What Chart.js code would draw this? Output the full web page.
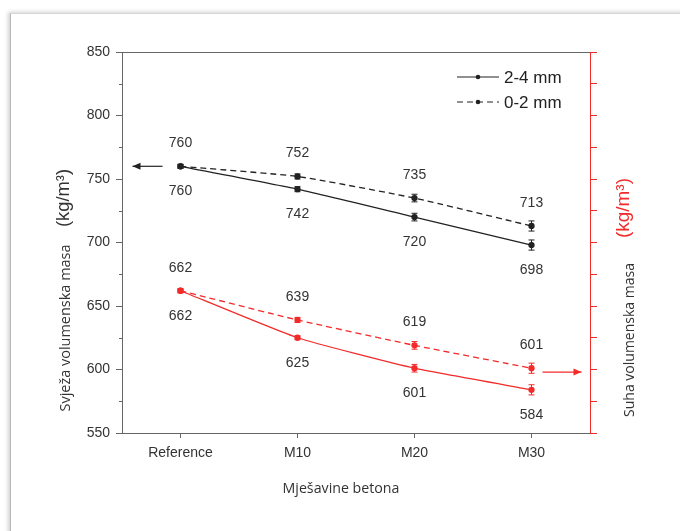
<!DOCTYPE html>
<html><head><meta charset="utf-8">
<script src="https://cdn.jsdelivr.net/npm/chart.js@4.4.1/dist/chart.umd.min.js"></script>
<style>
html,body{margin:0;padding:0;background:#fff;overflow:hidden;width:680px;height:531px}
#frame{position:absolute;left:10px;top:13px;width:700px;height:560px;border-left:1px solid #b8b8b8;border-top:1px solid #d6d6d6;box-shadow:-2px -1px 4px rgba(0,0,0,0.18);background:#fff}
#wrap{position:absolute;left:0;top:0;width:680px;height:531px}
</style></head><body>
<div id="frame"></div>
<div id="wrap"><canvas id="c" width="680" height="531"></canvas></div>
<script>
// ---- data ----
const categories = ['Reference', 'M10', 'M20', 'M30'];
const seriesNames = ['2-4 mm', '0-2 mm'];
const fresh24 = [760, 742, 720, 698];
const fresh02 = [760, 752, 735, 713];
const dry24 = [662, 625, 601, 584];
const dry02 = [662, 639, 619, 601];
const errFresh24 = [1.5, 2, 3, 4];
const errFresh02 = [1.5, 2, 3, 4];
const errDry24 = [1.5, 1.5, 3, 4];
const errDry02 = [1.5, 2, 3, 4];
const yMin = 550, yMax = 850, yStep = 50;
const leftTitle = 'Svježa volumenska masa';
const rightTitle = 'Suha volumenska masa';
const unitTitle = '(kg/m³)';
const xTitle = 'Mješavine betona';
const freshArrowValue = 760;
const dryArrowValue = 598;

// ---- styling ----
const BLACK = '#222';
const RED = '#f32a2a';
const AXIS = '#666';
const TXT = '#333';
const fontMain = '"Liberation Sans", Arial, sans-serif';
const fontTitle = '"Open Sans", "Noto Sans", sans-serif';

function mk(label, data, err, color, dashed, pos) {
  return {
    label, data, err, labelPos: pos,
    borderColor: color, backgroundColor: color,
    pointBackgroundColor: color, pointBorderColor: color,
    pointRadius: 2.5, borderWidth: 1.3, tension: 0.15,
    borderDash: dashed ? [6, 4] : [], fill: false, yAxisID: 'y'
  };
}

const datasets = [
  mk(seriesNames[0], fresh24, errFresh24, BLACK, false, 'below'),
  mk(seriesNames[1], fresh02, errFresh02, BLACK, true, 'above'),
  mk(seriesNames[0], dry24, errDry24, RED, false, 'below'),
  mk(seriesNames[1], dry02, errDry02, RED, true, 'above')
];

function fitFont(ctx, text, family, target) {
  ctx.font = '12px ' + family;
  const w = ctx.measureText(text).width;
  return (12 * target / w).toFixed(2) + 'px ' + family;
}
function vText(ctx, text, cx, cy, font, color) {
  ctx.save();
  ctx.translate(cx, cy);
  ctx.rotate(-Math.PI / 2);
  ctx.font = font; ctx.fillStyle = color;
  ctx.textAlign = 'center'; ctx.textBaseline = 'middle';
  ctx.fillText(text, 0, 0);
  ctx.restore();
}
function arrow(ctx, x1, x2, y, color) {
  ctx.save();
  ctx.strokeStyle = color; ctx.fillStyle = color; ctx.lineWidth = 1.2;
  ctx.beginPath(); ctx.moveTo(x1, y); ctx.lineTo(x2, y); ctx.stroke();
  const d = x2 > x1 ? 1 : -1;
  ctx.beginPath();
  ctx.moveTo(x2, y); ctx.lineTo(x2 - d * 8, y - 3.5); ctx.lineTo(x2 - d * 8, y + 3.5);
  ctx.closePath(); ctx.fill();
  ctx.restore();
}

const extras = {
  id: 'extras',
  afterDatasetsDraw(chart) {
    const ctx = chart.ctx, x = chart.scales.x, y = chart.scales.y, a = chart.chartArea;
    ctx.save();
    // top frame line
    ctx.strokeStyle = AXIS; ctx.lineWidth = 1;
    ctx.beginPath(); ctx.moveTo(a.left, Math.round(a.top) + 0.5); ctx.lineTo(a.right, Math.round(a.top) + 0.5); ctx.stroke();
    // minor ticks on left axis
    for (let v = yMin + yStep / 2; v < yMax; v += yStep) {
      const py = Math.round(y.getPixelForValue(v)) + 0.5;
      ctx.beginPath(); ctx.moveTo(a.left - 3, py); ctx.lineTo(a.left, py); ctx.stroke();
    }
    // error bars + value labels
    chart.data.datasets.forEach((ds, i) => {
      const meta = chart.getDatasetMeta(i);
      meta.data.forEach((pt, j) => {
        const v = ds.data[j], e = ds.err[j];
        const y1 = y.getPixelForValue(v + e), y2 = y.getPixelForValue(v - e);
        ctx.strokeStyle = ds.borderColor; ctx.lineWidth = 1; ctx.setLineDash([]);
        ctx.beginPath();
        ctx.moveTo(pt.x, y1); ctx.lineTo(pt.x, y2);
        ctx.moveTo(pt.x - 3, y1); ctx.lineTo(pt.x + 3, y1);
        ctx.moveTo(pt.x - 3, y2); ctx.lineTo(pt.x + 3, y2);
        ctx.stroke();
        ctx.fillStyle = TXT; ctx.font = '14px ' + fontMain;
        ctx.textAlign = 'center'; ctx.textBaseline = 'middle';
        ctx.fillText(String(v), pt.x, pt.y + (ds.labelPos === 'above' ? -23 : 25));
      });
    });
    // legend
    [0, 1].forEach(k => {
      const ds = chart.data.datasets[k];
      const ly = 77 + k * 25;
      ctx.strokeStyle = ds.borderColor; ctx.lineWidth = 1.2;
      ctx.setLineDash(ds.borderDash);
      ctx.beginPath(); ctx.moveTo(457, ly); ctx.lineTo(499, ly); ctx.stroke();
      ctx.setLineDash([]);
      ctx.fillStyle = ds.borderColor;
      ctx.beginPath(); ctx.arc(478, ly, 2.3, 0, Math.PI * 2); ctx.fill();
      ctx.fillStyle = BLACK; ctx.font = '17px ' + fontMain;
      ctx.textAlign = 'left'; ctx.textBaseline = 'middle';
      ctx.fillText(ds.label, 504, ly + 1);
    });
    // arrows
    const x0 = x.getPixelForValue(0), x3 = x.getPixelForValue(categories.length - 1);
    arrow(ctx, x0 - 18, x0 - 48, y.getPixelForValue(freshArrowValue), BLACK);
    arrow(ctx, x3 + 11, x3 + 50, y.getPixelForValue(dryArrowValue), RED);
    // titles
    vText(ctx, leftTitle, 66, 328, fitFont(ctx, leftTitle, fontTitle, 167), TXT);
    vText(ctx, unitTitle, 64, 198, fitFont(ctx, unitTitle, fontMain, 58), TXT);
    vText(ctx, rightTitle, 630, 340, fitFont(ctx, rightTitle, fontTitle, 154), TXT);
    vText(ctx, unitTitle, 624, 208, fitFont(ctx, unitTitle, fontMain, 60), RED);
    ctx.font = fitFont(ctx, xTitle, fontTitle, 117);
    ctx.fillStyle = TXT; ctx.textAlign = 'center'; ctx.textBaseline = 'middle';
    ctx.fillText(xTitle, 341, 489);
    ctx.restore();
  }
};

new Chart(document.getElementById('c'), {
  type: 'line',
  data: { labels: categories, datasets },
  options: {
    responsive: false, animation: false,
    layout: { padding: { top: 52, left: 0, right: 0, bottom: 0 } },
    plugins: { legend: { display: false }, tooltip: { enabled: false } },
    scales: {
      x: {
        type: 'category', offset: true,
        grid: { display: true, drawOnChartArea: false, tickLength: 5, color: AXIS },
        border: { color: AXIS, width: 1 },
        ticks: { font: { size: 14, family: fontMain }, color: TXT, padding: 7, maxRotation: 0 },
        afterFit(s) { s.height = 98; }
      },
      y: {
        position: 'left', min: yMin, max: yMax,
        ticks: { stepSize: yStep, font: { size: 14, family: fontMain }, color: TXT, padding: 6 },
        grid: { drawOnChartArea: false, tickLength: 6, color: AXIS },
        border: { color: AXIS, width: 1 },
        afterFit(s) { s.width = 122; }
      },
      y2: {
        position: 'right', min: yMin, max: yMax,
        ticks: { stepSize: yStep / 2, callback: () => '', padding: 0 },
        grid: { drawOnChartArea: false, tickLength: 7, color: RED },
        border: { color: RED, width: 1 },
        afterFit(s) { s.width = 90; }
      }
    }
  },
  plugins: [extras]
});
</script>
</body></html>
